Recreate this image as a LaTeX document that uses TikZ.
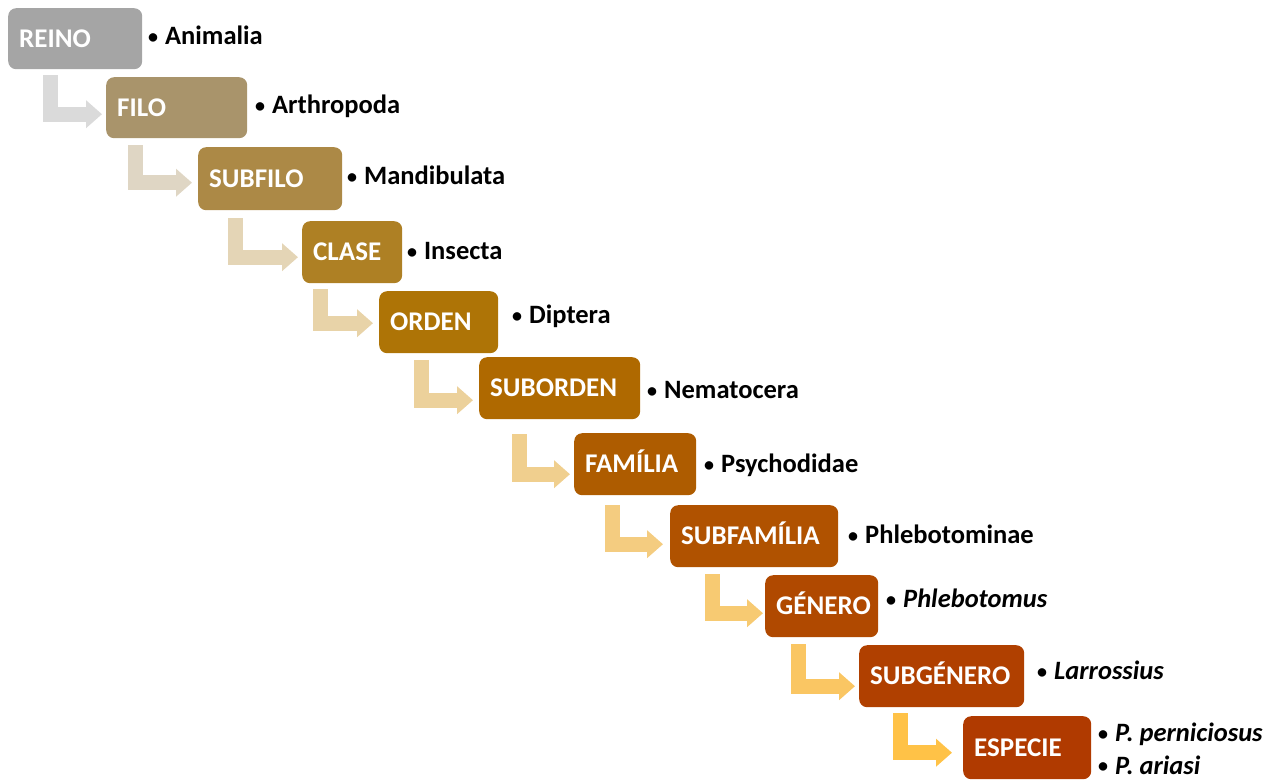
\documentclass[tikz,border=0pt]{standalone}
\usepackage{fontspec}
\setmainfont{Carlito}
\usetikzlibrary{arrows.meta}
\definecolor{cA}{HTML}{A5A5A5}
\definecolor{cB}{HTML}{A9946B}
\definecolor{cC}{HTML}{AC8946}
\definecolor{cD}{HTML}{AE8024}
\definecolor{cE}{HTML}{AE7406}
\definecolor{cF}{HTML}{AF6900}
\definecolor{cG}{HTML}{AE5C00}
\definecolor{cH}{HTML}{B05200}
\definecolor{cI}{HTML}{B04900}
\definecolor{cJ}{HTML}{B04000}
\definecolor{cK}{HTML}{B03A00}
\definecolor{a1}{HTML}{DADADA}
\definecolor{a2}{HTML}{DFD6C4}
\definecolor{a3}{HTML}{E4D5B6}
\definecolor{a4}{HTML}{E8D3A8}
\definecolor{a5}{HTML}{ECD19B}
\definecolor{a6}{HTML}{F0CF8E}
\definecolor{a7}{HTML}{F4CC80}
\definecolor{a8}{HTML}{F7CA72}
\definecolor{a9}{HTML}{FAC663}
\definecolor{a10}{HTML}{FFC247}
\newcommand{\tbul}{{\fontsize{20}{20}\selectfont\raisebox{1.2pt}{•}}\hspace{7pt}}
\tikzset{
  taxbox/.style={rounded corners=8pt, draw=none, text=white, align=left,
    inner xsep=11pt, inner ysep=0pt, anchor=north west,
    font=\bfseries\fontsize{27}{30}\selectfont, text height=17.4pt, text depth=0pt},
  taxlab/.style={anchor=base west, inner sep=0pt, text depth=0pt,
    font=\bfseries\fontsize{26.5}{30}\selectfont},
  taxarrow/.style={line width=15pt, line join=miter, line cap=butt,
    -{Triangle[length=16pt,width=27pt]}}
}
\newcommand{\taxbox}[7]{%
  \pgfmathsetmacro\tbw{#4-#2-22}%
  \pgfmathsetmacro\tbh{#5-#3}%
  \node[taxbox, fill=#6, text width=\tbw pt, minimum height=\tbh pt] (#1) at (#2,#3) {#7};}
\newcommand{\taxarrow}[7]{%
  \draw[taxarrow, draw=#3] ([xshift=#4pt, yshift=-#5pt]#1.south west) |- ([xshift=-#6pt, yshift=-#7pt]#2.west);}
\begin{document}
\begin{tikzpicture}[x=1pt, y=-1pt]
\useasboundingbox (0,0) rectangle (1273,779);
\taxbox{reino}{8}{8}{142}{69}{cA}{REINO}
\taxbox{filo}{106}{77}{247}{138}{cB}{FILO}
\taxbox{subfilo}{198}{147}{342}{210}{cC}{SUBFILO}
\taxbox{clase}{302}{221}{402}{283}{cD}{CLASE}
\taxbox{orden}{379}{291}{498}{353}{cE}{ORDEN}
\taxbox{suborden}{479}{357}{640}{419}{cF}{SUBORDEN}
\taxbox{familia}{574}{433}{696}{495}{cG}{FAMÍLIA}
\taxbox{subfamilia}{670}{505}{838}{567}{cH}{SUBFAMÍLIA}
\taxbox{genero}{765}{575}{878}{637}{cI}{GÉNERO}
\taxbox{subgenero}{859}{645}{1024}{707}{cJ}{SUBGÉNERO}
\taxbox{especie}{963}{716}{1091}{779}{cK}{ESPECIE}
\taxarrow{reino}{filo}{a1}{42}{6}{4}{6.5}
\taxarrow{filo}{subfilo}{a2}{29}{7}{6}{4}
\taxarrow{subfilo}{clase}{a3}{37.5}{8}{4}{5}
\taxarrow{clase}{orden}{a4}{18.5}{6}{6}{1}
\taxarrow{orden}{suborden}{a5}{42}{7}{6}{12}
\taxarrow{suborden}{familia}{a6}{40.5}{15}{4}{10}
\taxarrow{familia}{subfamilia}{a7}{38.5}{10}{7}{8}
\taxarrow{subfamilia}{genero}{a8}{42.5}{7}{2}{7}
\taxarrow{genero}{subgenero}{a9}{33}{7}{4}{10}
\taxarrow{subgenero}{especie}{a10}{41.5}{6}{11}{5}
\node[taxlab] (l1) at (148,44.5) {\tbul Animalia};
\node[taxlab] (l2) at (255,113.5) {\tbul Arthropoda};
\node[taxlab] (l3) at (347,184.5) {\tbul Mandibulata};
\node[taxlab] (l4) at (407,259.5) {\tbul Insecta};
\node[taxlab] (l5) at (512,323.5) {\tbul Diptera};
\node[taxlab] (l6) at (647,398.5) {\tbul Nematocera};
\node[taxlab] (l7) at (704,472.5) {\tbul Psychodidae};
\node[taxlab] (l8) at (848,543.5) {\tbul Phlebotominae};
\node[taxlab] (l9) at (886,607.5) {\tbul \textit{Phlebotomus}};
\node[taxlab] (l10) at (1037,679.5) {\tbul \textit{Larrossius}};
\node[taxlab] (l11) at (1098,741.5) {\tbul \textit{P. perniciosus}};
\node[taxlab] (l12) at (1098,774) {\tbul \textit{P. ariasi}};
\end{tikzpicture}
\end{document}
